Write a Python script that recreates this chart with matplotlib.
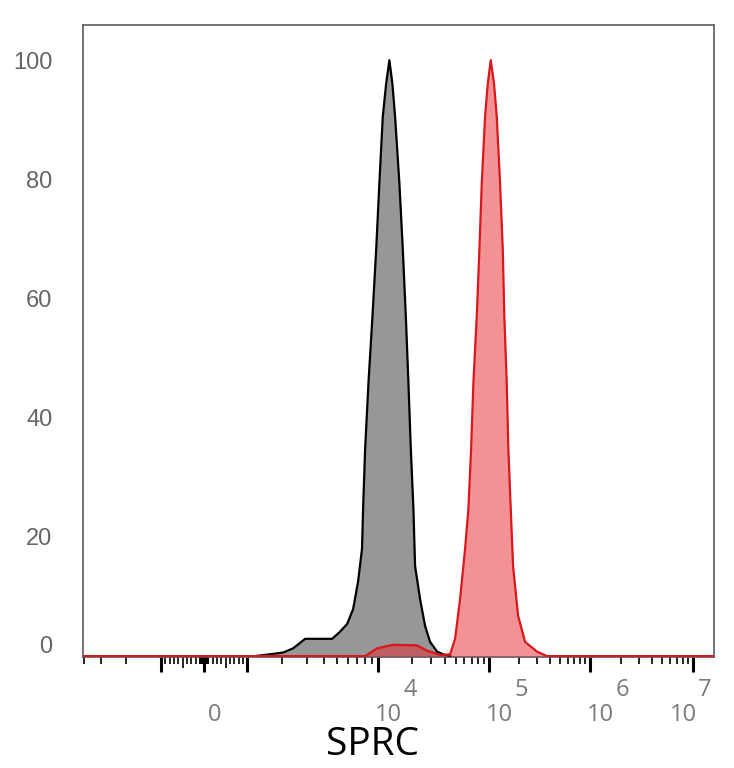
import numpy as np
import matplotlib
matplotlib.use("Agg")
import matplotlib.pyplot as plt
from matplotlib.ticker import FixedLocator, NullFormatter
from matplotlib.transforms import ScaledTranslation

# ---------------- data ----------------
# control histogram (grey)
ctrl_x = [1170, 1490, 2040, 2400, 2920, 4600, 5260, 5930, 6560, 7130, 7620,
          7760, 8030, 8500, 9090, 9680, 10270, 11020, 11810, 12640, 13460,
          14230, 15550, 16700, 17780, 18760, 19720, 20810, 21540, 23880,
          26490, 29380, 34020, 38540, 44570]
ctrl_y = [0, 0.25, 0.6, 1.3, 2.9, 2.9, 4.1, 5.4, 7.9, 12.5, 18.0,
          24.7, 34.7, 45.9, 57.0, 68.2, 79.4, 90.5, 96.0, 100, 96.0,
          90.5, 79.4, 68.2, 57.0, 45.9, 34.7, 24.7, 15.1, 9.6,
          5.1, 2.4, 0.75, 0.3, 0]

# SPRC stained histogram (red)
sprc_x = [-4100, 8030, 9840, 13650, 22450, 27610, 36220, 44570, 49430, 54830,
          60810, 65120, 68880, 72260, 77480, 81820, 85980, 92030, 97300,
          103900, 112100, 119200, 128500, 136700, 141700, 149600, 155300,
          164000, 173000, 193800, 227200, 298600, 375000, 1.6e7]
sprc_y = [0, 0, 1.3, 1.9, 1.8, 0.9, 0.2, 0.3, 2.9, 9.6,
          18.0, 24.7, 34.7, 45.9, 57.0, 68.2, 79.4, 90.5, 96.0,
          100, 96.0, 90.5, 79.4, 68.2, 57.0, 45.9, 34.7,
          24.7, 15.1, 6.8, 2.4, 0.75, 0, 0]

y_ticks = [0, 20, 40, 60, 80, 100]
x_label_vals = [0, 1e4, 1e5, 1e6, 1e7]
x_label_base = ["0", "10", "10", "10", "10"]
x_label_exp = ["", "4", "5", "6", "7"]

# ---------------- biexponential-like axis ----------------
LIN_W = 1000.0   # linear part +-1000
LIN_PX = 43.0
LOG_DEC = [3.0, 3.301, 3.477, 4.0, 5.0, 6.0, 7.0, 8.0]
LOG_PX = [43.0, 77.7, 102.7, 174.0, 285.0, 386.0, 489.0, 592.0]


def forward(x):
    x = np.asarray(x, dtype=float)
    a = np.abs(x)
    lin = a / LIN_W * LIN_PX
    lg = np.interp(np.log10(np.maximum(a, LIN_W)), LOG_DEC, LOG_PX)
    return np.sign(x) * np.where(a <= LIN_W, lin, lg)


def inverse(v):
    v = np.asarray(v, dtype=float)
    b = np.abs(v)
    lin = b / LIN_PX * LIN_W
    lg = 10 ** np.interp(np.maximum(b, LIN_PX), LOG_PX, LOG_DEC)
    return np.sign(v) * np.where(b <= LIN_PX, lin, lg)


fig = plt.figure(figsize=(7.34, 7.68), dpi=100)
ax = fig.add_axes([83 / 734, 1 - 657 / 768, (714 - 83) / 734, (657 - 25) / 768])
ax.set_xscale("function", functions=(forward, inverse))

ax.fill_between(ctrl_x, ctrl_y, 0, color="#979797", lw=0, zorder=2)
ax.plot(ctrl_x, ctrl_y, color="black", lw=1.6, zorder=3)
ax.fill_between(sprc_x, sprc_y, 0, color="#e8262a", alpha=0.5, lw=0, zorder=4)
ax.plot(sprc_x, sprc_y, color="#d9171c", lw=1.6, zorder=5)

ax.set_xlim(-4100, 1.6e7)
ax.set_ylim(-0.15, 105.9)

# ticks on x
major = [-1000, 0, 1000, 1e4, 1e5, 1e6, 1e7]
minor = []
for d in [10, 100]:
    for k in range(1, 10):
        minor += [k * d, -k * d]
for d in [1e3, 1e4, 1e5, 1e6]:
    for k in range(2, 10):
        minor.append(k * d)
minor += [-2000, -3000, -4000]
minor = sorted(minor)
ax.xaxis.set_major_locator(FixedLocator(major))
ax.xaxis.set_minor_locator(FixedLocator(minor))
ax.xaxis.set_major_formatter(NullFormatter())
ax.xaxis.set_minor_formatter(NullFormatter())
ax.tick_params(axis="x", which="major", length=11, width=2.2, color="black", direction="out")
ax.tick_params(axis="x", which="minor", length=5, width=1.2, color="black", direction="out")
# half-way ticks (+-500) a bit longer
mticks = ax.xaxis.get_minor_ticks(len(minor))
for i, v in enumerate(minor):
    if abs(v) == 500:
        mticks[i].tick1line.set_markersize(8)

# custom x labels: "10" with raised exponent
for val, base, ex in zip(x_label_vals, x_label_base, x_label_exp):
    dx = -10 if val == 1e7 else 10
    ax.annotate(base, xy=(val, 0), xycoords=("data", "axes fraction"),
                xytext=(dx, -58), textcoords="offset pixels",
                ha="center", va="center", fontsize=17, color="#7a7a7a",
                family="Open Sans", annotation_clip=False)
    if ex:
        ax.annotate(ex, xy=(val, 0), xycoords=("data", "axes fraction"),
                    xytext=(dx + 22, -33), textcoords="offset pixels",
                    ha="center", va="center", fontsize=17, color="#7a7a7a",
                    family="Open Sans", annotation_clip=False)

# y axis
ax.set_yticks(y_ticks)
ax.set_yticklabels([str(v) for v in y_ticks], family="Liberation Sans",
                   fontsize=17, color="#666666")
ax.tick_params(axis="y", length=0, pad=22)
lab0 = ax.get_yticklabels()[0]
lab0.set_transform(lab0.get_transform() + ScaledTranslation(0, 12 / 100, fig.dpi_scale_trans))

for s in ax.spines.values():
    s.set_color("#5a5a5a")
    s.set_linewidth(1.2)

fig.text(373 / 734, 1 - 745 / 768, "SPRC", ha="center", va="center",
         fontsize=28, family="Open Sans", color="black")

fig.savefig("out.png", dpi=100)
